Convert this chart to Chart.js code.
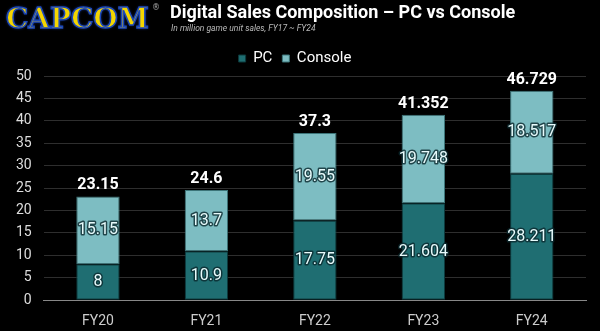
<!DOCTYPE html>
<html>
<head>
<meta charset="utf-8">
<script src="https://cdn.jsdelivr.net/npm/chart.js@4.4.1/dist/chart.umd.min.js"></script>
<style>
  html, body { margin: 0; padding: 0; background: #000; }
  #wrap { position: relative; width: 600px; height: 331px; overflow: hidden; }
  #chart { position: absolute; left: 0; top: 0; }
  .logo {
    position: absolute; left: 6px; top: 2px;
    font: 900 28px "DejaVu Serif", serif; letter-spacing: 0px;
    color: #f4d600; -webkit-text-stroke: 1.5px #1d48b8;
    text-shadow: 0 0 3px #1d48b8;
  }
  .reg { position: absolute; left: 152px; top: 3px; font: 8px "DejaVu Sans"; color: #aaa; }
  .title {
    position: absolute; left: 170px; top: 1px;
    font: bold 18px Roboto, sans-serif; color: #fff;
  }
  .sub {
    position: absolute; left: 171px; top: 23px;
    font: italic 8.5px Roboto, sans-serif; color: #bbb;
  }
</style>
</head>
<body>
<div id="wrap">
  <canvas id="chart" width="600" height="345"></canvas>
  <div class="logo">CAPCOM</div>
  <div class="reg">®</div>
  <div class="title">Digital Sales Composition – PC vs Console</div>
  <div class="sub">In million game unit sales, FY17 ~ FY24</div>
</div>
<script>
const years = ["FY20", "FY21", "FY22", "FY23", "FY24"];
const pcSales = [8, 10.9, 17.75, 21.604, 28.211];
const consoleSales = [15.15, 13.7, 19.55, 19.748, 18.517];
const totals = [23.15, 24.6, 37.3, 41.352, 46.729];

const pcColor = "#1f6e72";
const consoleColor = "#7dbdc2";

// numbers inside each segment plus total on top
const barLabels = {
  id: "barLabels",
  afterDatasetsDraw(chart) {
    const ctx = chart.ctx;
    ctx.save();
    ctx.textAlign = "center";
    ctx.textBaseline = "middle";
    ctx.lineJoin = "round";
    chart.data.datasets.forEach((ds, i) => {
      const meta = chart.getDatasetMeta(i);
      meta.data.forEach((bar, j) => {
        const midY = (bar.y + bar.base) / 2;
        ctx.font = "16px Roboto, sans-serif";
        ctx.lineWidth = 3;
        ctx.strokeStyle = "rgba(10,40,45,0.8)";
        ctx.strokeText(String(ds.data[j]), bar.x, midY);
        ctx.fillStyle = "#e8fbfc";
        ctx.fillText(String(ds.data[j]), bar.x, midY);
        if (i === chart.data.datasets.length - 1) {
          ctx.font = "bold 16px Roboto, sans-serif";
          ctx.fillStyle = "#fff";
          ctx.fillText(String(totals[j]), bar.x, bar.y - 11);
        }
      });
    });
    ctx.restore();
  }
};

new Chart(document.getElementById("chart"), {
  type: "bar",
  data: {
    labels: years,
    datasets: [
      { label: "PC", data: pcSales, backgroundColor: pcColor, borderColor: "#0d3a3d", borderWidth: 1, borderSkipped: false },
      { label: "Console", data: consoleSales, backgroundColor: consoleColor, borderColor: "#3c7478", borderWidth: 1, borderSkipped: false }
    ]
  },
  options: {
    responsive: false,
    animation: false,
    layout: { padding: { top: 41, left: 4, right: 14, bottom: 2 } },
    datasets: { bar: { barPercentage: 0.4, categoryPercentage: 1 } },
    plugins: {
      legend: {
        position: "top",
        labels: {
          color: "#fff",
          font: { family: "Roboto", size: 15 },
          boxWidth: 7,
          boxHeight: 7,
          padding: 10
        }
      },
      tooltip: { enabled: false }
    },
    scales: {
      x: {
        stacked: true,
        grid: { display: false, drawTicks: false },
        border: { color: "#888", width: 1 },
        ticks: { color: "#ccc", font: { family: "Roboto", size: 14 }, padding: 13 }
      },
      y: {
        stacked: true,
        min: 0,
        max: 50,
        grid: { color: "#2e2e2e", drawTicks: false },
        border: { display: false },
        ticks: { stepSize: 5, color: "#ddd", font: { family: "Roboto", size: 14 }, padding: 12 }
      }
    }
  },
  plugins: [barLabels]
});
</script>
</body>
</html>
